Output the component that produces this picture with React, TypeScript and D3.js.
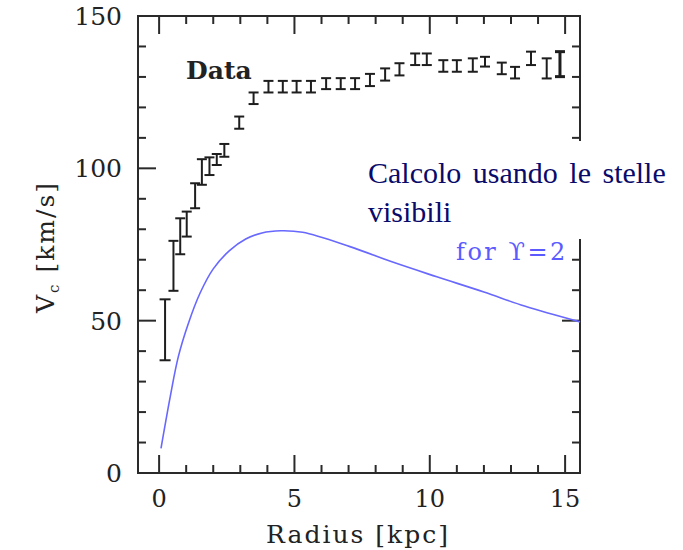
import React from "react";
import * as d3 from "d3";

// Observed rotation curve (radius kpc, velocity km/s, half error)
const dataR = [0.22, 0.53, 0.78, 1.02, 1.33, 1.58, 1.86, 2.13, 2.41, 2.96, 3.49, 4.04, 4.57, 5.08, 5.61, 6.17, 6.71, 7.24, 7.79, 8.35, 8.88, 9.46, 9.89, 10.5, 11.0, 11.59, 12.04, 12.66, 13.15, 13.74, 14.32, 14.81];
const dataV = [47, 68, 77.7, 81.7, 91, 98.8, 100.7, 102.9, 105.9, 115, 123, 126.8, 126.8, 126.8, 126.8, 127.8, 127.8, 127.8, 129, 130.8, 132.5, 135.8, 135.8, 133.6, 133.6, 133.9, 135, 132.8, 131.4, 136.1, 132.8, 134.2];
const dataErr = [10, 8.2, 5.9, 4.1, 4.1, 4.2, 2.9, 1.8, 2.1, 2.0, 1.9, 1.9, 1.9, 1.9, 1.9, 1.8, 1.8, 1.8, 2.0, 2.0, 2.0, 1.9, 1.9, 1.9, 1.9, 2.2, 1.6, 1.9, 1.9, 2.2, 3.3, 4.1];

// Model curve from visible stars (Upsilon = 2)
const modelR = [0.07, 0.41, 0.71, 1.08, 1.51, 2.0, 2.6, 3.2, 3.8, 4.5, 5.3, 7.05, 8.6, 10.26, 12.0, 13.5, 15.55];
const modelV = [8.1, 25, 38.2, 49.1, 59, 67, 73, 76.8, 78.8, 79.5, 79, 74.3, 69.3, 64.4, 59.4, 54.8, 49.6];

const xMinorTicks = d3.range(0, 16, 1);
const xMajorTicks = [0, 5, 10, 15];
const yMinorTicks = d3.range(0, 151, 10);
const yMajorTicks = [0, 50, 100, 150];

const W = 683;
const H = 550;
const L = 138, R = 580, T = 16, B = 473;

export default function App() {
  const x = d3.scaleLinear().domain([-0.78, 15.55]).range([L, R]);
  const y = d3.scaleLinear().domain([0, 150]).range([B, T]);
  const line = d3
    .line<number>()
    .x((_, i) => x(modelR[i]))
    .y((d) => y(d))
    .curve(d3.curveCatmullRom.alpha(0.5));

  const axisColor = "#2a2a2a";
  const serif = "'DejaVu Serif', serif";
  const major = 18;
  const minor = 8;
  const txt = { fontFamily: serif, fill: "#222" };

  return (
    <svg width={W} height={H} style={{ position: "absolute", left: 0, top: 0, background: "#fff" }}>
      <rect x={0} y={0} width={W} height={H} fill="#fff" />
      {/* frame */}
      <rect x={L} y={T} width={R - L} height={B - T} fill="none" stroke={axisColor} strokeWidth={2} />
      {/* x ticks bottom & top */}
      {xMinorTicks.map((t) => {
        const len = xMajorTicks.includes(t) ? major : minor;
        return (
          <g key={"xt" + t} stroke={axisColor} strokeWidth={2}>
            <line x1={x(t)} x2={x(t)} y1={B} y2={B - len} />
            <line x1={x(t)} x2={x(t)} y1={T} y2={T + len} />
          </g>
        );
      })}
      {/* y ticks left & right */}
      {yMinorTicks.map((t) => {
        const len = yMajorTicks.includes(t) ? major : minor;
        return (
          <g key={"yt" + t} stroke={axisColor} strokeWidth={2}>
            <line x1={L} x2={L + len} y1={y(t)} y2={y(t)} />
            <line x1={R} x2={R - len} y1={y(t)} y2={y(t)} />
          </g>
        );
      })}
      {/* tick labels */}
      {xMajorTicks.map((t) => (
        <text key={"xl" + t} x={x(t)} y={507} textAnchor="middle" fontSize={24} {...txt}>
          {t}
        </text>
      ))}
      {yMajorTicks.map((t) => (
        <text key={"yl" + t} x={122} y={y(t) + 9} textAnchor="end" fontSize={25} {...txt}>
          {t}
        </text>
      ))}
      {/* axis labels */}
      <text x={358} y={543} textAnchor="middle" fontSize={25} letterSpacing={2} {...txt}>
        Radius [kpc]
      </text>
      <text transform={`translate(54,247) rotate(-90)`} textAnchor="middle" fontSize={25} letterSpacing={2} {...txt}>
        V<tspan fontSize={15} dy={5}>c</tspan>
        <tspan dy={-5}> [km/s]</tspan>
      </text>
      {/* data error bars */}
      {dataR.map((r, i) => {
        const cx = x(r);
        const y1 = y(dataV[i] + dataErr[i]);
        const y2 = y(dataV[i] - dataErr[i]);
        const hw = i === 0 ? 5.5 : 5;
        const sw = i === dataR.length - 1 ? 3 : 2;
        return (
          <g key={"eb" + i} stroke="#1e1e1e" strokeWidth={sw}>
            <line x1={cx} x2={cx} y1={y1} y2={y2} />
            <line x1={cx - hw} x2={cx + hw} y1={y1} y2={y1} />
            <line x1={cx - hw} x2={cx + hw} y1={y2} y2={y2} />
          </g>
        );
      })}
      <text x={186} y={79} fontSize={25} fontWeight="bold" {...txt}>
        Data
      </text>
      {/* model curve */}
      <path d={line(modelV) || ""} fill="none" stroke="#6868ff" strokeWidth={1.6} />
      {/* annotation box */}
      <rect x={360} y={141} width={W - 360} height={98} fill="#fff" />
      <text x={368} y={183} fontFamily="'Liberation Serif', 'Times New Roman', serif" fontSize={30} fill="#0a0a6a" wordSpacing={4}>
        Calcolo usando le stelle
      </text>
      <text x={368} y={222} fontFamily="'Liberation Serif', 'Times New Roman', serif" fontSize={30} fill="#0a0a6a">
        visibili
      </text>
      <text x={456} y={260} fontFamily={serif} fontSize={24} letterSpacing={2.5} fill="#5a5aff">
        for ϒ=2
      </text>
    </svg>
  );
}
